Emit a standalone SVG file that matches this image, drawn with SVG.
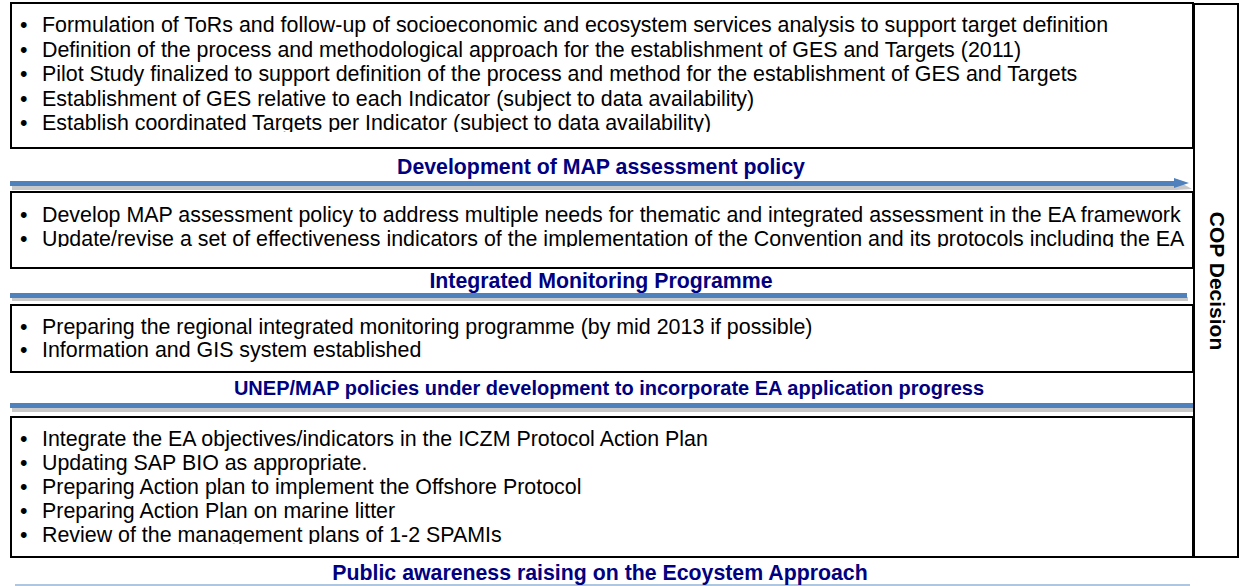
<svg xmlns="http://www.w3.org/2000/svg" width="1240" height="586" viewBox="0 0 1240 586">
<style>
.box{fill:#fff;stroke:#000;stroke-width:2}
.t{font-family:"Liberation Sans",Arial,sans-serif;font-size:21.4px;fill:#000}
.h{font-family:"Liberation Sans",Arial,sans-serif;font-size:21.3px;font-weight:bold;fill:#000080;text-anchor:middle}
.c{font-family:"Liberation Sans",Arial,sans-serif;font-size:21px;font-weight:bold;fill:#000;text-anchor:middle}
.blue{fill:#4F81BD}
.shadow{fill:#C8C8C8}
</style>
<defs>
<clipPath id="c1"><rect x="12" y="4" width="1180" height="128"/></clipPath>
<clipPath id="c2"><rect x="12" y="193" width="1180" height="54"/></clipPath>
<clipPath id="c3"><rect x="12" y="306" width="1180" height="65"/></clipPath>
<clipPath id="c4"><rect x="12" y="418" width="1180" height="126"/></clipPath>
</defs>
<rect width="1240" height="586" fill="#fff"/>
<g id="connectors">
<polygon class="shadow" points="12,185 1176,185 1176,180 1192,189 1176,190 12,190"/>
<polygon class="blue" points="10,181 1174,181 1174,178 1189,183 1174,188 1174,186 10,186"/>
<rect class="shadow" x="12" y="297" width="1176" height="4"/>
<rect class="blue" x="10" y="293" width="1177" height="5"/>
<rect class="shadow" x="12" y="407" width="1184" height="5"/>
<rect class="blue" x="10" y="403" width="1185" height="5"/>
<line x1="15" y1="585" x2="1190" y2="585" stroke="#95B3D7" stroke-width="1.5"/>
</g>
<g id="box1">
<rect class="box" x="11" y="3" width="1182" height="145"/>
<g clip-path="url(#c1)">
<text class="t" x="20" y="32">•<tspan x="42">Formulation of ToRs and follow-up of socioeconomic and ecosystem services analysis to support target definition</tspan></text>
<text class="t" x="20" y="56.5">•<tspan x="42">Definition of the process and methodological approach for the establishment of GES and Targets (2011)</tspan></text>
<text class="t" x="20" y="81">•<tspan x="42">Pilot Study finalized to support definition of the process and method for the establishment of GES and Targets</tspan></text>
<text class="t" x="20" y="105.5">•<tspan x="42">Establishment of GES relative to each Indicator (subject to data availability)</tspan></text>
<text class="t" x="20" y="130">•<tspan x="42">Establish coordinated Targets per Indicator (subject to data availability)</tspan></text>
</g>
</g>
<g id="header1"><text class="h" x="601" y="174">Development of MAP assessment policy</text></g>
<g id="box2">
<rect class="box" x="11" y="192" width="1182" height="76"/>
<g clip-path="url(#c2)">
<text class="t" x="20" y="222">•<tspan x="42">Develop MAP assessment policy to address multiple needs for thematic and integrated assessment in the EA framework</tspan></text>
<text class="t" x="20" y="246">•<tspan x="42">Update/revise a set of effectiveness indicators of the implementation of the Convention and its protocols including the EA</tspan></text>
</g>
</g>
<g id="header2"><text class="h" x="601" y="288">Integrated Monitoring Programme</text></g>
<g id="box3">
<rect class="box" x="11" y="305" width="1182" height="67"/>
<g clip-path="url(#c3)">
<text class="t" x="20" y="334">•<tspan x="42">Preparing the regional integrated monitoring programme (by mid 2013 if possible)</tspan></text>
<text class="t" x="20" y="357">•<tspan x="42">Information and GIS system established</tspan></text>
</g>
</g>
<g id="header3"><text class="h" x="609" y="395" style="font-size:20px">UNEP/MAP policies under development to incorporate EA application progress</text></g>
<g id="box4">
<rect class="box" x="11" y="417" width="1182" height="140"/>
<g clip-path="url(#c4)">
<text class="t" x="20" y="446">•<tspan x="42">Integrate the EA objectives/indicators in the ICZM Protocol Action Plan</tspan></text>
<text class="t" x="20" y="470">•<tspan x="42">Updating SAP BIO as appropriate.</tspan></text>
<text class="t" x="20" y="494">•<tspan x="42">Preparing Action plan to implement the Offshore Protocol</tspan></text>
<text class="t" x="20" y="518">•<tspan x="42">Preparing Action Plan on marine litter</tspan></text>
<text class="t" x="20" y="542">•<tspan x="42">Review of the management plans of 1-2 SPAMIs</tspan></text>
</g>
</g>
<g id="header4"><text class="h" x="600" y="580">Public awareness raising on the Ecoystem Approach</text></g>
<g id="cop">
<rect class="box" x="1194" y="4" width="44" height="553"/>
<text class="c" transform="translate(1210,281) rotate(90)">COP Decision</text>
</g>
</svg>
